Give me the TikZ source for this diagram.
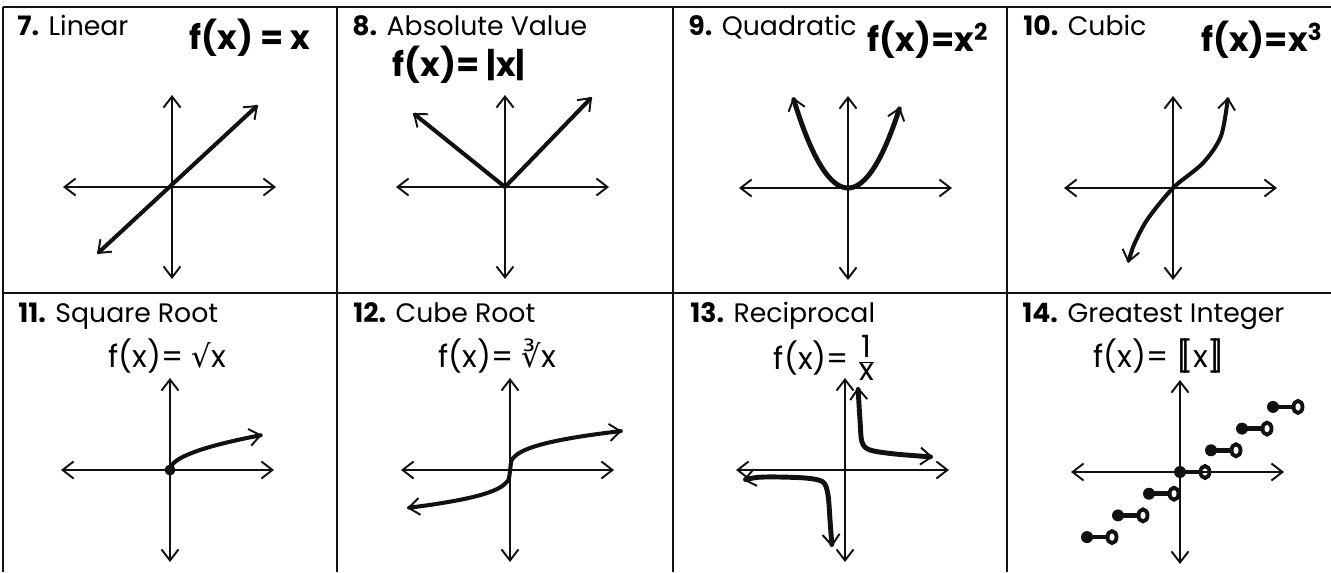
\documentclass[tikz,border=0pt]{standalone}
\usepackage{fontspec}
\setmainfont{Poppins}
\newfontfamily\radicalfont{DejaVu Sans}
\usetikzlibrary{arrows.meta}
\definecolor{sheetInk}{HTML}{111111}

\begin{document}
\begin{tikzpicture}[x=0.02cm,y=0.02cm,font=\fontsize{15.2}{18}\selectfont,
    >={Straight Barb[length=2.2mm,width=3.4mm,line width=1.1pt]},
    rule/.style={sheetInk,line width=1.5pt},
    axis/.style={sheetInk,line width=1.1pt,<->},
    graph/.style={sheetInk,line width=2.3pt,line cap=round,line join=round},
    title/.style={anchor=base west,inner sep=0pt},
    formula/.style={inner sep=0pt,font=\fontsize{17.5}{20}\selectfont}]
  \useasboundingbox (0,0) rectangle (1331,572);

  % frame of the sheet
  \foreach \gx in {3,337,673,1007} \draw[rule] (\gx,0) -- (\gx,565);
  \foreach \gy in {565,279} \draw[rule] (3,\gy) -- (1331,\gy);

  % titles and formulas
  \node[title] (t7) at (17,536) {\textbf{7.} Linear};
  \node[title] (t8) at (352,536) {\textbf{8.} Absolute Value};
  \node[title] (t9) at (688,536) {\textbf{9.} Quadratic};
  \node[title] (t10) at (1023,536) {\textbf{10.} Cubic};
  \node[title] (t11) at (18,250) {\textbf{11.} Square Root};
  \node[title] (t12) at (353,250) {\textbf{12.} Cube Root};
  \node[title] (t13) at (690,250) {\textbf{13.} Reciprocal};
  \node[title] (t14) at (1022,250) {\textbf{14.} Greatest Integer};

  \node[formula,font=\fontsize{19}{21}\bfseries] (f7) at (250,534) {f(x) = x};
  \node[formula,font=\fontsize{19}{21}\bfseries] (f8) at (459,507) {f(x)= |x|};
  \node[formula,font=\fontsize{19}{21}\bfseries] (f9) at (928,532) {f(x)=x\textsuperscript{2}};
  \node[formula,font=\fontsize{19}{21}\bfseries] (f10) at (1262,532) {f(x)=x\textsuperscript{3}};
  \node[formula] (f11) at (167,216) {f(x)= {\radicalfont √}x};
  \node[formula] (f12) at (497,216) {f(x)= {\radicalfont ∛}x};
  \node[formula] (f13) at (825,214) {f(x)= $\frac{\mbox{1}}{\mbox{x}}$};
  \node[formula] (f14) at (1159,216) {f(x)= [\kern-.3em[x]\kern-.3em]};

  % axes of every panel
  \foreach \cx/\cy in {172/385,505/385,848/384,1173/384,170/102,510/102,845/102,1180/100}{
    \draw[axis] (\cx-109,\cy) -- (\cx+104,\cy);
    \draw[axis] (\cx,\cy-92) -- (\cx,\cy+92);
  }

  % 7 linear
  \begin{scope}[shift={(172,385)}]
    \draw[graph,<->] (-75,-67) -- (86,82);
  \end{scope}
  % 8 absolute value
  \begin{scope}[shift={(505,385)}]
    \draw[graph,<->] (-92,74) -- (0,0) -- (87,90);
  \end{scope}
  % 9 quadratic
  \begin{scope}[shift={(848,384)}]
    \draw[graph,line width=2.8pt,<->] plot[domain=-55:52,samples=40,smooth] (\x,{0.03*\x*\x});
  \end{scope}
  % 10 cubic
  \begin{scope}[shift={(1173,384)}]
    \draw[graph,<->] plot[smooth] coordinates {(-45,-75) (-40,-59) (-26,-32) (0,0) (30,25) (48,52) (55,91)};
  \end{scope}
  % 11 square root
  \begin{scope}[shift={(170,102)}]
    \fill[sheetInk] (0,0) circle (5.5);
    \draw[graph,->] plot[domain=0:92,samples=40,smooth] (\x,{3.65*sqrt(\x)});
  \end{scope}
  % 12 cube root
  \begin{scope}[shift={(510,102)}]
    \draw[graph,<->] plot[domain=-103:112,samples=100,smooth] (\x,{8.1*sign(\x)*abs(\x)^(1/3)});
  \end{scope}
  % 13 reciprocal
  \begin{scope}[shift={(845,102)}]
    \draw[graph,line width=2.8pt,<->] plot[smooth] coordinates {(13,83) (15,50) (17,28) (25,20) (50,16) (88,13)};
    \draw[graph,line width=2.8pt,<->] plot[smooth] coordinates {(-102,-10) (-80,-7) (-40,-8) (-22,-12) (-17,-25) (-15,-50) (-13,-77)};
  \end{scope}
  % 14 greatest integer
  \begin{scope}[shift={(1180,100)}]
    \foreach \k in {-3,...,3}{
      \draw[graph,line width=2.6pt] (31*\k,21.7*\k) -- (31*\k+20,21.7*\k);
      \fill[sheetInk] (31*\k,21.7*\k) circle (6);
      \draw[sheetInk,line width=2.2pt] (31*\k+25,21.7*\k) ellipse (4.5 and 6);
    }
  \end{scope}
\end{tikzpicture}
\end{document}
